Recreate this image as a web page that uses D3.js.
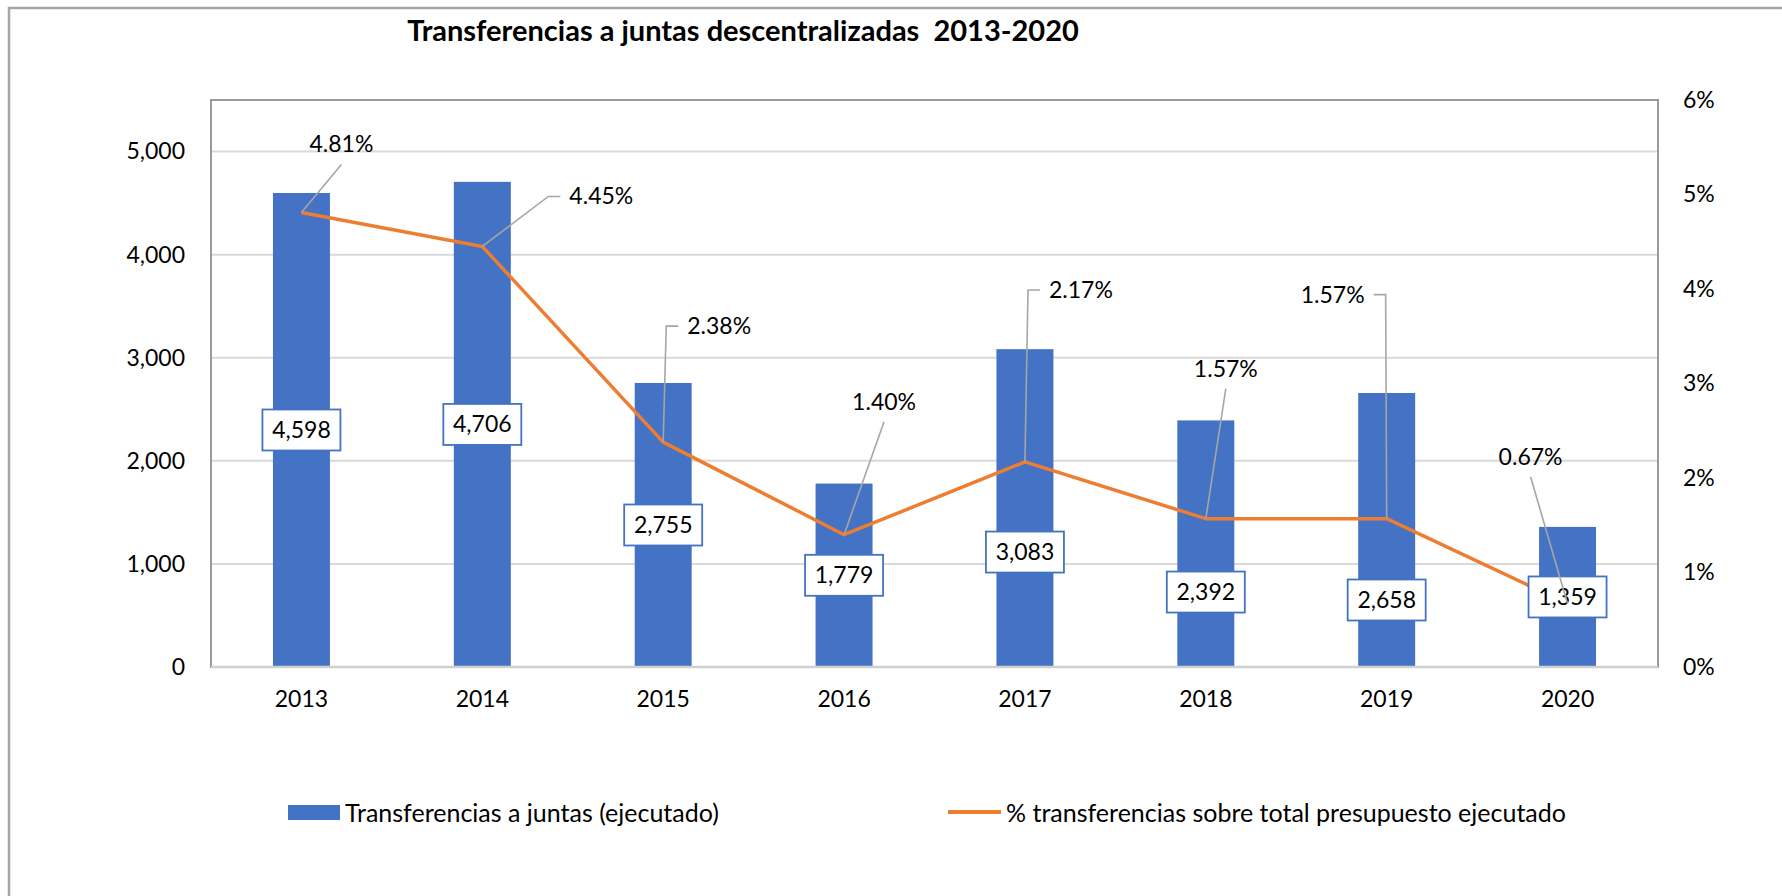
<!DOCTYPE html>
<html>
<head>
<meta charset="utf-8">
<script src="https://cdn.jsdelivr.net/npm/d3@7"></script>
<style>
  body { margin: 0; background: #fff; }
  svg { display: block; font-family: Lato, "Open Sans", sans-serif; }
</style>
</head>
<body>
<div id="chart"></div>
<script>
/***** Data *****/
var years = ["2013", "2014", "2015", "2016", "2017", "2018", "2019", "2020"];
var transferencias = [4598, 4706, 2755, 1779, 3083, 2392, 2658, 1359];
var porcentaje = [0.0481, 0.0445, 0.0238, 0.0140, 0.0217, 0.0157, 0.0157, 0.0067];
var leftTicks = [0, 1000, 2000, 3000, 4000, 5000];
var rightTicks = [0, 0.01, 0.02, 0.03, 0.04, 0.05, 0.06];
var titleText = "Transferencias a juntas descentralizadas  2013-2020";
var barName = "Transferencias a juntas (ejecutado)";
var lineName = "% transferencias sobre total presupuesto ejecutado";

/***** Layout (label placement as moved by hand in the original) *****/
// where the value boxes sit, in bar units (null = middle of the bar)
var boxAt = [null, null, null, null, 1115, 727, 650, null];
// percent labels, offset in px from their point
var pctOffset = [[40, -68], [119, -50], [56, -116], [40, -133],
                 [56, -172], [20, -150], [-54, -224], [-37, -147]];

var W = 1782, H = 896;
var margin = {left: 211, right: W - 1658, top: 100, bottom: H - 667};
var blue = "#4472C4", orange = "#ED7D31", grid = "#D9D9D9", leaderCol = "#A6A6A6";
var fontSize = 23;

var svg = d3.select("#chart").append("svg")
  .attr("width", W)
  .attr("height", H);

svg.append("rect").attr("width", W).attr("height", H).attr("fill", "#fff");

// outer chart frame (only top/left visible in the original)
svg.append("path")
  .attr("d", "M9,896 V8 H1782")
  .attr("fill", "none")
  .attr("stroke", "#A6A6A6")
  .attr("stroke-width", 2.5);

var x = d3.scaleBand()
  .domain(years)
  .range([margin.left, W - margin.right])
  .paddingInner(0.685)
  .paddingOuter(0.3425);

var y = d3.scaleLinear().domain([0, 5500]).range([H - margin.bottom, margin.top]);
var y2 = d3.scaleLinear().domain([0, 0.06]).range([H - margin.bottom, margin.top]);

// title
svg.append("text")
  .attr("x", 743)
  .attr("y", 41)
  .attr("text-anchor", "middle")
  .attr("font-weight", "bold")
  .attr("font-size", 29)
  .style("white-space", "pre")
  .attr("fill", "#000")
  .text(titleText);

// gridlines
svg.append("g")
  .selectAll("line")
  .data(leftTicks.filter(function(d) { return d > 0; }))
  .join("line")
  .attr("x1", margin.left).attr("x2", W - margin.right)
  .attr("y1", function(d) { return y(d); })
  .attr("y2", function(d) { return y(d); })
  .attr("stroke", grid)
  .attr("stroke-width", 2);

// plot frame
svg.append("rect")
  .attr("x", margin.left).attr("y", margin.top)
  .attr("width", W - margin.right - margin.left)
  .attr("height", H - margin.bottom - margin.top)
  .attr("fill", "none")
  .attr("stroke", "#9A9A9A")
  .attr("stroke-width", 2);

// axes
var yAxisL = d3.axisLeft(y).tickValues(leftTicks).tickFormat(d3.format(",")).tickSize(0).tickPadding(26);
var yAxisR = d3.axisRight(y2).tickValues(rightTicks).tickFormat(d3.format(".0%")).tickSize(0).tickPadding(25);
var xAxis = d3.axisBottom(x).tickSize(0).tickPadding(24);

function styleAxis(g) {
  g.select(".domain").remove();
  g.selectAll("text")
    .attr("font-size", fontSize)
    .attr("font-family", "Lato, 'Open Sans', sans-serif")
    .attr("fill", "#000");
}

svg.append("g").attr("transform", "translate(" + margin.left + ",0)").call(yAxisL).call(styleAxis);
svg.append("g").attr("transform", "translate(" + (W - margin.right) + ",0)").call(yAxisR).call(styleAxis);
svg.append("g").attr("transform", "translate(0," + (H - margin.bottom) + ")").call(xAxis).call(styleAxis);

// bars
svg.append("g")
  .selectAll("rect")
  .data(transferencias)
  .join("rect")
  .attr("x", function(d, i) { return x(years[i]); })
  .attr("y", function(d) { return y(d); })
  .attr("width", x.bandwidth())
  .attr("height", function(d) { return y(0) - y(d); })
  .attr("fill", blue);

// category axis line
svg.append("line")
  .attr("x1", margin.left).attr("x2", W - margin.right)
  .attr("y1", y(0)).attr("y2", y(0))
  .attr("stroke", "#D0D0D0")
  .attr("stroke-width", 2.5);

// line series
var cx = function(i) { return x(years[i]) + x.bandwidth() / 2; };
var line = d3.line()
  .x(function(d, i) { return cx(i); })
  .y(function(d) { return y2(d); });

svg.append("path")
  .datum(porcentaje)
  .attr("d", line)
  .attr("fill", "none")
  .attr("stroke", orange)
  .attr("stroke-width", 3.5)
  .attr("stroke-linejoin", "round");

// value boxes on bars
var fmtInt = d3.format(",");
var boxes = svg.append("g")
  .selectAll("g")
  .data(transferencias)
  .join("g")
  .attr("transform", function(d, i) {
    var at = boxAt[i] == null ? d / 2 : boxAt[i];
    return "translate(" + cx(i) + "," + y(at) + ")";
  });

boxes.append("rect")
  .attr("x", -39).attr("y", -20.5)
  .attr("width", 78).attr("height", 41)
  .attr("fill", "#fff")
  .attr("stroke", blue)
  .attr("stroke-width", 1.8);

boxes.append("text")
  .attr("text-anchor", "middle")
  .attr("y", 8)
  .attr("font-size", fontSize)
  .attr("fill", "#000")
  .text(function(d) { return fmtInt(d); });

// percent labels with leader lines
var fmtPct = d3.format(".2%");
var leaders = svg.append("g");
var pctLabels = svg.append("g")
  .selectAll("text")
  .data(porcentaje)
  .join("text")
  .attr("text-anchor", "middle")
  .attr("x", function(d, i) { return cx(i) + pctOffset[i][0]; })
  .attr("y", function(d, i) { return y2(d) + pctOffset[i][1] + 8; })
  .attr("font-size", fontSize)
  .attr("fill", "#000")
  .text(function(d) { return fmtPct(d); });

pctLabels.each(function(d, i) {
  var half = this.getComputedTextLength() / 2;
  var px = cx(i), py = y2(d);
  var tx = px + pctOffset[i][0], ty = py + pctOffset[i][1];
  var pts;
  if (Math.abs(pctOffset[i][0]) < half + 15) {
    pts = [[tx, ty + 20], [px, py]];
  } else if (pctOffset[i][0] > 0) {
    pts = [[tx - half - 9, ty], [tx - half - 21, ty], [px, py]];
  } else {
    pts = [[tx + half + 9, ty], [tx + half + 21, ty], [px, py]];
  }
  leaders.append("path")
    .attr("d", d3.line()(pts))
    .attr("fill", "none")
    .attr("stroke", leaderCol)
    .attr("stroke-width", 1.6);
});

// legend
var legendSize = 25;
var legend = svg.append("g");
legend.append("rect")
  .attr("x", 288).attr("y", 805)
  .attr("width", 52).attr("height", 15)
  .attr("fill", blue);
legend.append("text")
  .attr("x", 345).attr("y", 822)
  .attr("font-size", legendSize)
  .attr("fill", "#000")
  .text(barName);
legend.append("line")
  .attr("x1", 948).attr("x2", 1001)
  .attr("y1", 812).attr("y2", 812)
  .attr("stroke", orange)
  .attr("stroke-width", 4);
legend.append("text")
  .attr("x", 1006).attr("y", 822)
  .attr("font-size", legendSize)
  .attr("fill", "#000")
  .text(lineName);
</script>
</body>
</html>
